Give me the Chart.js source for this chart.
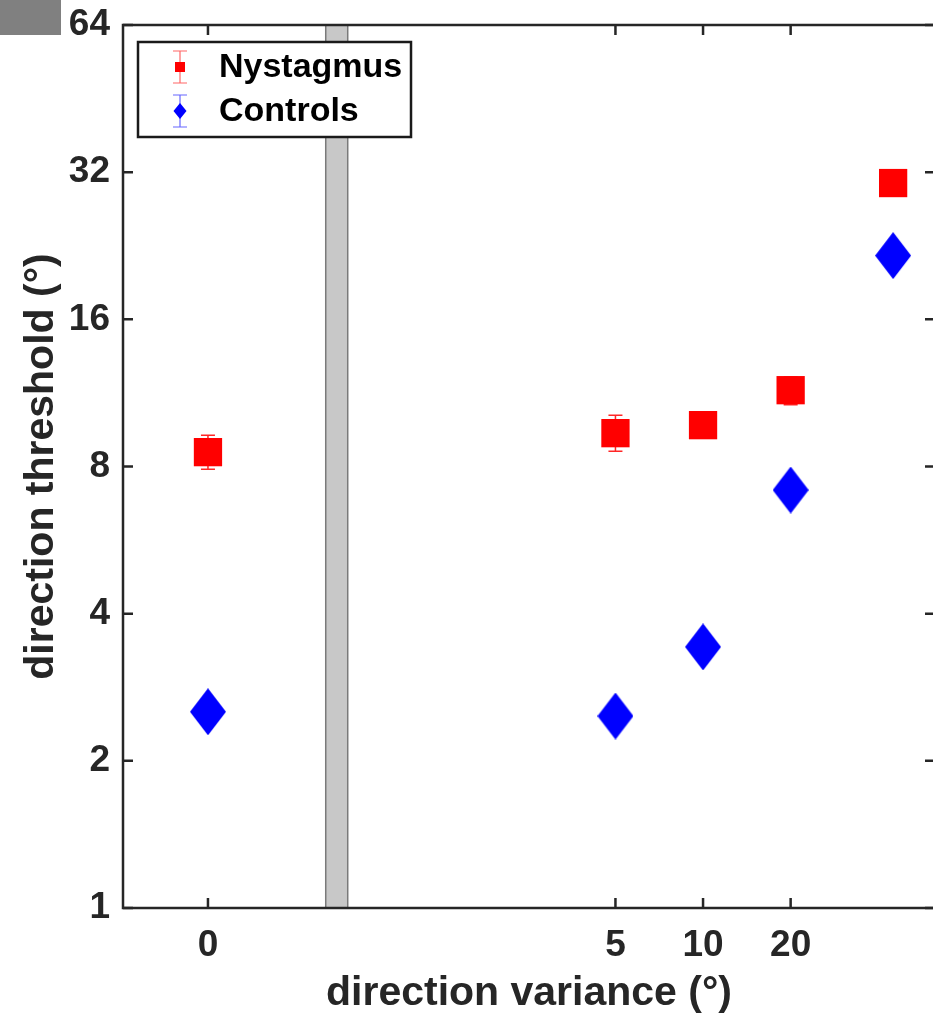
<!DOCTYPE html>
<html>
<head>
<meta charset="utf-8">
<script src="https://cdn.jsdelivr.net/npm/chart.js@4/dist/chart.umd.min.js"></script>
<style>
  html, body { margin: 0; padding: 0; background: #fff; overflow: hidden; }
  #wrap { position: relative; width: 933px; height: 1018px; overflow: hidden; }
  #inner { position: absolute; left: 0; top: 0; width: 945px; height: 1018px; }
  #chart { display: block; }
  #corner { position: absolute; left: 0; top: 0; width: 61px; height: 35px; background: #808080; }
</style>
</head>
<body>
<div id="wrap">
  <div id="inner"><canvas id="chart" width="945" height="1018"></canvas></div>
  <div id="corner"></div>
</div>
<script>
// conditions (direction variance, deg) and thresholds
const conditions = [0, 5, 10, 20, 45];
const xTickValues = [0, 5, 10, 20];
const xTickLabels = ['0', '5', '10', '20'];
const yTicks = [1, 2, 4, 8, 16, 32, 64];

const nystagmus = [8.56, 9.36, 9.72, 11.46, 30.4];
const nystagmusLow = [7.9, 8.6, 9.4, 10.7, 29.6];
const nystagmusHigh = [9.27, 10.18, 10.05, 12.2, 31.2];

const controls = [2.52, 2.47, 3.42, 7.16, 21.6];
const controlsLow = [2.45, 2.4, 3.32, 6.95, 21.0];
const controlsHigh = [2.6, 2.55, 3.52, 7.4, 22.2];

// zero condition is drawn left of the axis break
const zeroPos = -2.33;
const breakPos = -0.86;
const toX = v => v === 0 ? zeroPos : Math.log2(v);

const axisColor = '#262626';
const fontFamily = "'Liberation Sans', Arial, Helvetica, sans-serif";

function diamond(w, h, color) {
    const c = document.createElement('canvas');
    c.width = w; c.height = h;
    const g = c.getContext('2d');
    g.fillStyle = color;
    g.beginPath();
    g.moveTo(w / 2, 0);
    g.lineTo(w, h / 2);
    g.lineTo(w / 2, h);
    g.lineTo(0, h / 2);
    g.closePath();
    g.fill();
    return c;
}
const bigDiamond = diamond(36, 47, '#0000ff');

const frame = {
    id: 'frame',
    beforeDatasetsDraw(chart) {
        const { ctx, chartArea: a, scales: { x, y } } = chart;
        ctx.save();
        // axis break bar
        const bx = x.getPixelForValue(breakPos);
        ctx.fillStyle = '#c8c8c8';
        ctx.strokeStyle = '#7a7a7a';
        ctx.lineWidth = 1.5;
        ctx.fillRect(bx - 11, a.top, 22, a.bottom - a.top);
        ctx.strokeRect(bx - 11, a.top, 22, a.bottom - a.top);

        // error bars
        const sets = [
            { lo: nystagmusLow, hi: nystagmusHigh, color: 'rgba(255,0,0,0.85)' },
            { lo: controlsLow, hi: controlsHigh, color: 'rgba(0,0,255,0.85)' }
        ];
        ctx.lineWidth = 1.5;
        sets.forEach(s => {
            ctx.strokeStyle = s.color;
            conditions.forEach((c, i) => {
                const px = x.getPixelForValue(toX(c));
                const y1 = y.getPixelForValue(s.lo[i]);
                const y2 = y.getPixelForValue(s.hi[i]);
                ctx.beginPath();
                ctx.moveTo(px, y1); ctx.lineTo(px, y2);
                ctx.moveTo(px - 7, y1); ctx.lineTo(px + 7, y1);
                ctx.moveTo(px - 7, y2); ctx.lineTo(px + 7, y2);
                ctx.stroke();
            });
        });
        ctx.restore();
    },
    afterDraw(chart) {
        const { ctx, chartArea: a, scales: { x, y } } = chart;
        ctx.save();
        ctx.strokeStyle = axisColor;
        ctx.lineWidth = 2.5;
        const tl = 10;
        ctx.beginPath();
        xTickValues.forEach(v => {
            const px = x.getPixelForValue(toX(v));
            ctx.moveTo(px, a.bottom); ctx.lineTo(px, a.bottom - tl);
            ctx.moveTo(px, a.top); ctx.lineTo(px, a.top + tl);
        });
        yTicks.forEach(v => {
            const py = y.getPixelForValue(v);
            ctx.moveTo(a.left, py); ctx.lineTo(a.left + tl, py);
            ctx.moveTo(a.right, py); ctx.lineTo(a.right - tl, py);
        });
        ctx.stroke();
        ctx.strokeRect(a.left, a.top, a.right - a.left, a.bottom - a.top);

        // legend box
        const lx = 138, ly = 42, lw = 273, lh = 95;
        ctx.fillStyle = '#fff';
        ctx.fillRect(lx, ly, lw, lh);
        ctx.strokeStyle = '#1a1a1a';
        ctx.lineWidth = 2.5;
        ctx.strokeRect(lx, ly, lw, lh);

        const rows = [
            { label: 'Nystagmus', y: 67, color: '#ff0000', bar: 'rgba(255,0,0,0.6)', shape: 'square' },
            { label: 'Controls', y: 111, color: '#0000ff', bar: 'rgba(0,0,255,0.6)', shape: 'diamond' }
        ];
        rows.forEach(r => {
            const mx = 180;
            ctx.strokeStyle = r.bar;
            ctx.lineWidth = 1.2;
            ctx.beginPath();
            ctx.moveTo(mx, r.y - 16); ctx.lineTo(mx, r.y + 16);
            ctx.moveTo(mx - 7, r.y - 16); ctx.lineTo(mx + 7, r.y - 16);
            ctx.moveTo(mx - 7, r.y + 16); ctx.lineTo(mx + 7, r.y + 16);
            ctx.stroke();
            ctx.fillStyle = r.color;
            if (r.shape === 'square') {
                ctx.fillRect(mx - 5, r.y - 5, 10, 10);
            } else {
                ctx.beginPath();
                ctx.moveTo(mx, r.y - 8); ctx.lineTo(mx + 6.5, r.y);
                ctx.lineTo(mx, r.y + 8); ctx.lineTo(mx - 6.5, r.y);
                ctx.closePath();
                ctx.fill();
            }
            ctx.fillStyle = '#000';
            ctx.font = 'bold 34px ' + fontFamily;
            ctx.textBaseline = 'middle';
            ctx.textAlign = 'left';
            ctx.fillText(r.label, 219, r.y + 1);
        });
        ctx.restore();
    }
};

new Chart(document.getElementById('chart'), {
    type: 'scatter',
    data: {
        datasets: [
            {
                label: 'Nystagmus',
                data: conditions.map((c, i) => ({ x: toX(c), y: nystagmus[i] })),
                pointStyle: 'rect',
                pointRadius: 20,
                backgroundColor: '#ff0000',
                borderWidth: 0
            },
            {
                label: 'Controls',
                data: conditions.map((c, i) => ({ x: toX(c), y: controls[i] })),
                pointStyle: bigDiamond,
                backgroundColor: '#0000ff',
                borderWidth: 0
            }
        ]
    },
    options: {
        responsive: false,
        animation: false,
        devicePixelRatio: 1,
        // right border sits just past the window edge, as in the figure
        layout: { autoPadding: false, padding: { top: 25, right: 10, left: 0, bottom: 0 } },
        plugins: { legend: { display: false }, tooltip: { enabled: false } },
        scales: {
            x: {
                type: 'linear',
                min: -3.3,
                max: 5.97,
                afterBuildTicks: s => { s.ticks = xTickValues.map(v => ({ value: toX(v) })); },
                afterFit: s => { s.height = 110; s.paddingLeft = 0; s.paddingRight = 0; },
                grid: { display: false, drawTicks: false },
                border: { display: false },
                ticks: {
                    autoSkip: false,
                    maxRotation: 0,
                    padding: 16,
                    color: axisColor,
                    font: { family: fontFamily, size: 37, weight: 'bold' },
                    callback: (v, i) => xTickLabels[i]
                },
                title: {
                    display: true,
                    text: 'direction variance (°)',
                    color: axisColor,
                    padding: { top: 0, bottom: 0 },
                    font: { family: fontFamily, size: 41, weight: 'bold' }
                }
            },
            y: {
                type: 'logarithmic',
                min: 1,
                max: 64,
                afterBuildTicks: s => { s.ticks = yTicks.map(v => ({ value: v })); },
                afterFit: s => { s.width = 123; s.paddingTop = 0; s.paddingBottom = 0; },
                grid: { display: false, drawTicks: false },
                border: { display: false },
                ticks: {
                    padding: 13,
                    color: axisColor,
                    font: { family: fontFamily, size: 37, weight: 'bold' },
                    callback: v => String(v)
                },
                title: {
                    display: true,
                    text: 'direction threshold (°)',
                    color: axisColor,
                    padding: { top: 17, bottom: 17 },
                    font: { family: fontFamily, size: 41, weight: 'bold' }
                }
            }
        }
    },
    plugins: [frame]
});
</script>
</body>
</html>
